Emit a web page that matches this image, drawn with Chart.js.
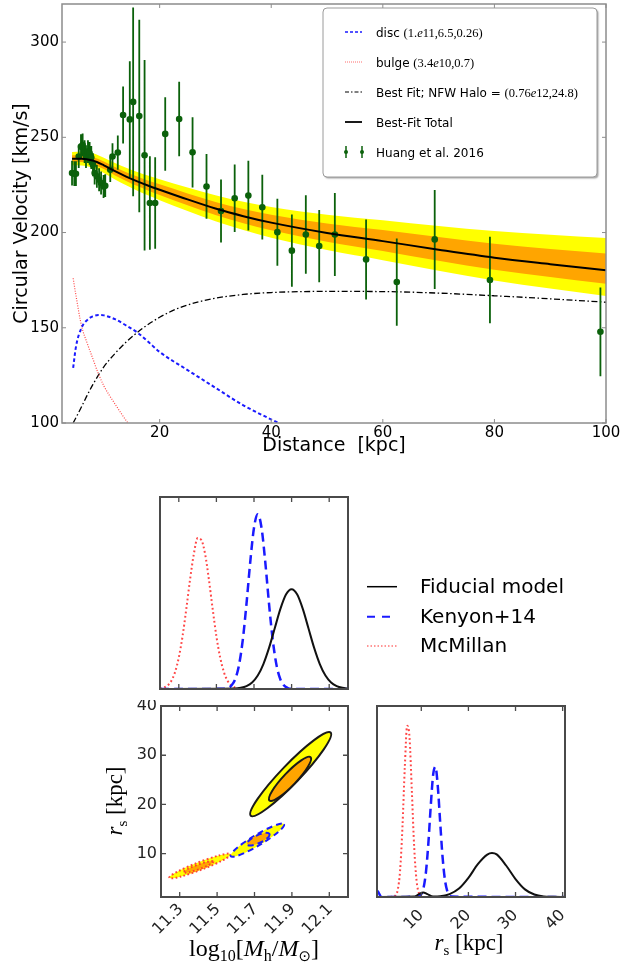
<!DOCTYPE html>
<html>
<head>
<meta charset="utf-8">
<title>Milky Way rotation curve and halo posteriors</title>
<script src="https://cdn.jsdelivr.net/npm/chart.js@4.4.1/dist/chart.umd.min.js"></script>
<style>
  html, body { margin: 0; padding: 0; background: #fff; }
  body { position: relative; width: 620px; height: 971px; overflow: hidden; }
  canvas { position: absolute; }
</style>
</head>
<body>
<canvas id="rotCurve" width="620" height="460" style="left:0;top:0;width:620px;height:460px"></canvas>
<canvas id="massHist" width="530" height="215" style="left:90px;top:480px;width:530px;height:215px"></canvas>
<canvas id="contours" width="270" height="271" style="left:90px;top:700px;width:270px;height:271px"></canvas>
<canvas id="rsHist" width="260" height="271" style="left:360px;top:700px;width:260px;height:271px"></canvas>
<script>
Chart.defaults.font.family = 'DejaVu Sans';
Chart.defaults.color = '#000';
Chart.defaults.animation = false;

// ---- rotation curve: Huang et al. 2016 points ----
const huangR = [4.3, 4.7, 5.0, 5.5, 5.9, 6.2, 6.55, 6.8, 7.15, 7.45, 7.75, 8.05, 8.35, 8.75, 9.15, 9.5, 9.95, 10.25, 11.15, 11.55,
  12.5, 13.45, 14.65, 15.25, 16.35, 17.3, 18.25, 19.2, 21.0, 23.5, 25.9, 28.4, 31.0, 33.45, 35.9, 38.4, 41.1, 43.7, 46.2, 48.6,
  51.4, 57.0, 62.5, 69.3, 79.2, 99.0];
const huangV = [231.2, 230.9, 230.9, 239.9, 245.1, 246.0, 242.5, 239.9, 242.5, 241.6, 239.4, 235.6, 231.2, 229.5, 227.7, 226.0, 224.2, 224.6, 233.0, 239.9,
  242.0, 261.7, 259.4, 268.6, 261.2, 240.6, 215.5, 215.5, 251.8, 259.6, 242.1, 224.2, 211.3, 218.0, 219.4, 213.3, 200.2, 190.5, 199.0, 192.9,
  199.0, 185.9, 174.0, 196.4, 175.1, 147.9];
const huangErr = [6.5, 6.5, 6.5, 6, 6.5, 6, 6, 6, 6, 6, 6, 6, 6, 6, 6, 6, 6, 6, 6.5, 7,
  9, 15, 30.5, 49.5, 50.5, 50, 24.5, 24, 19.3, 19.6, 18.5, 17, 16.5, 17.7, 18.3, 17, 17.6, 19, 20.6, 19,
  21.8, 21, 22.9, 26, 22.7, 23.3];

// best-fit total and its 1/2 sigma envelopes
const fitR = [4.3, 6, 8, 10, 12, 14, 16, 18, 20, 25, 30, 35, 40, 50, 60, 70, 80, 90, 100];
const fitV = [238.8, 238.8, 237.8, 235.3, 232.2, 229.4, 226.9, 224.6, 222.5, 217.4, 212.6, 208.6, 205.2, 199.8, 195.5, 191.0, 186.8, 183.4, 180.2];
const fitUp2 = [242.3, 242.4, 241.6, 239.3, 236.5, 234.0, 231.8, 229.8, 228.0, 223.7, 219.6, 216.2, 213.4, 209.4, 206.5, 203.5, 200.8, 198.9, 197.2];
const fitUp1 = [240.6, 240.6, 239.7, 237.3, 234.4, 231.7, 229.4, 227.2, 225.3, 220.5, 216.1, 212.4, 209.4, 204.8, 201.3, 197.6, 194.1, 191.4, 189.0];
const fitLo1 = [237.0, 237.0, 235.9, 233.3, 230.0, 227.1, 224.4, 222.0, 219.7, 214.3, 209.2, 204.9, 201.2, 195.2, 190.3, 185.2, 180.5, 176.7, 173.1];
const fitLo2 = [235.3, 235.2, 234.0, 231.3, 227.9, 224.8, 222.0, 219.4, 217.0, 211.3, 205.9, 201.3, 197.3, 190.8, 185.5, 180.0, 174.8, 170.6, 166.7];

// mass components
const discR = [4.5, 5, 6, 7, 8, 9, 10, 12, 14, 16, 18, 20, 25, 30, 35, 41.3];
const discV = [129, 140, 150, 154, 156, 156.7, 156.5, 154.5, 151.2, 147.5, 142.5, 137.3, 127.8, 118.5, 109.3, 100];
const bulgeR = [4.5, 5, 6, 7, 8, 9, 10, 11, 12, 13, 14.3];
const bulgeV = [176, 167, 151, 142, 134, 126, 119.5, 114.5, 110, 105.5, 100];
const haloR = [4.5, 6, 7, 8, 9, 10, 12, 14, 17, 20, 24, 30, 35, 40, 50, 60, 70, 80, 90, 100];
const haloV = [100, 108.5, 114.5, 120, 125, 129.5, 136.5, 142.5, 149.8, 155.5, 161, 165.5, 167.5, 168.5, 169.1, 169, 168.2, 166.8, 165.2, 163.4];

const distTicks = [20, 40, 60, 80, 100];
const velTicks = [100, 150, 200, 250, 300];

// ---- halo posteriors ----
const mhTicks = [11.3, 11.5, 11.7, 11.9, 12.1];
const rsTicks = [10, 20, 30, 40];

const mhFidX = [11.20, 11.60, 11.63, 11.66, 11.69, 11.72, 11.75, 11.78, 11.81, 11.84, 11.87, 11.90, 11.93, 11.96, 11.99, 12.02, 12.05, 12.08, 12.11, 12.14, 12.17, 12.20];
const mhFidY = [0, 0.002, 0.006, 0.015, 0.034, 0.070, 0.130, 0.214, 0.315, 0.416, 0.492, 0.52, 0.492, 0.416, 0.315, 0.214, 0.130, 0.070, 0.034, 0.015, 0.006, 0.002];
const mhKenX = [11.20, 11.54, 11.56, 11.58, 11.60, 11.62, 11.64, 11.66, 11.68, 11.70, 11.72, 11.74, 11.76, 11.78, 11.80, 11.82, 11.84, 11.86, 11.88, 11.90, 11.94, 12.20];
const mhKenY = [0, 0.001, 0.005, 0.018, 0.051, 0.123, 0.253, 0.443, 0.661, 0.840, 0.91, 0.840, 0.661, 0.443, 0.253, 0.123, 0.051, 0.018, 0.005, 0.001, 0, 0];
const mhMcmX = [11.20, 11.22, 11.24, 11.26, 11.28, 11.30, 11.32, 11.34, 11.36, 11.38, 11.40, 11.42, 11.44, 11.46, 11.48, 11.50, 11.52, 11.54, 11.56, 11.58, 11.60, 11.62, 11.66, 12.20];
const mhMcmY = [0.002, 0.007, 0.018, 0.042, 0.088, 0.164, 0.275, 0.418, 0.571, 0.703, 0.786, 0.776, 0.703, 0.571, 0.418, 0.275, 0.164, 0.088, 0.042, 0.018, 0.007, 0.002, 0, 0];

const rsFidX = [0.6, 8.5, 9.5, 10.4, 11.3, 12.5, 14, 16, 18, 20, 22, 24, 25, 26, 28, 30, 32, 34, 36, 38, 40.5];
const rsFidY = [0, 0.002, 0.015, 0.024, 0.015, 0.003, 0.004, 0.015, 0.044, 0.100, 0.172, 0.222, 0.23, 0.223, 0.165, 0.094, 0.040, 0.013, 0.003, 0.001, 0];
const rsKenX = [0.6, 1.0, 1.5, 9.5, 10.0, 10.5, 11.0, 11.5, 12.0, 12.5, 13.0, 13.5, 14.0, 14.5, 15.0, 15.5, 16.0, 16.5, 40.5];
const rsKenY = [0.035, 0.02, 0, 0.004, 0.015, 0.050, 0.133, 0.281, 0.474, 0.637, 0.682, 0.581, 0.395, 0.214, 0.093, 0.032, 0.009, 0.002, 0];
const rsMcmX = [0.6, 4.0, 4.5, 5.0, 5.5, 6.0, 6.5, 7.0, 7.5, 8.0, 8.5, 9.0, 9.5, 10.0, 10.5, 40.5];
const rsMcmY = [0, 0.001, 0.007, 0.037, 0.138, 0.366, 0.679, 0.896, 0.836, 0.552, 0.258, 0.085, 0.020, 0.003, 0, 0];

// 1 and 2 sigma regions, given by the ends of each ellipse's long axis [log10 Mh, rs]
const fidOuter = [[11.68, 17.7], [12.107, 34.6]];
const fidInner = [[11.78, 20.8], [12.0, 29.6]];
const kenOuter = [[11.573, 9.5], [11.858, 16.0]];
const kenInner = [[11.66, 11.9], [11.78, 14.0]];
const mcmOuter = [[11.244, 5.1], [11.573, 9.9]];
const mcmInner = [[11.32, 6.2], [11.48, 8.4]];

const GREEN = '#0b610b';
const RED_DOT = 'rgba(255,50,50,0.9)';
const BLUE = '#1a1aff';
const SERIF = '"Liberation Serif"';

const pts = (xs, ys) => xs.map((x, i) => ({ x, y: ys[i] }));
const fixTicks = vals => s => { s.ticks = vals.map(v => ({ value: v })); };

// draws text made of pieces with their own font and baseline shift
function richText(ctx, parts, x, y, align, rotation) {
  ctx.save();
  ctx.translate(x, y);
  if (rotation) ctx.rotate(rotation);
  ctx.textBaseline = 'alphabetic';
  ctx.textAlign = 'left';
  ctx.fillStyle = '#000';
  let w = 0;
  parts.forEach(p => { ctx.font = p[1]; w += ctx.measureText(p[0]).width; });
  let cx = align === 'center' ? -w / 2 : 0;
  parts.forEach(p => {
    ctx.font = p[1];
    ctx.fillText(p[0], cx, p[2] || 0);
    cx += ctx.measureText(p[0]).width;
  });
  ctx.restore();
}

// box around the plot area with inward ticks
const framePlugin = {
  id: 'frame',
  afterDatasetsDraw(chart, args, o) {
    const { ctx, chartArea: a, scales } = chart;
    ctx.save();
    ctx.strokeStyle = o.color;
    ctx.lineWidth = o.tickWidth;
    ctx.beginPath();
    if (o.xTicks) scales.x.ticks.forEach(t => {
      const p = scales.x.getPixelForValue(t.value);
      ctx.moveTo(p, a.bottom); ctx.lineTo(p, a.bottom - o.len);
      ctx.moveTo(p, a.top); ctx.lineTo(p, a.top + o.len);
    });
    if (o.yTicks) scales.y.ticks.forEach(t => {
      const p = scales.y.getPixelForValue(t.value);
      ctx.moveTo(a.left, p); ctx.lineTo(a.left + o.len, p);
      ctx.moveTo(a.right, p); ctx.lineTo(a.right - o.len, p);
    });
    ctx.stroke();
    ctx.lineWidth = o.width;
    ctx.strokeRect(a.left, a.top, a.right - a.left, a.bottom - a.top);
    ctx.restore();
  }
};

// vertical error bars, drawn just under the Huang markers
const errorBars = {
  id: 'errorBars',
  beforeDatasetDraw(chart, args) {
    if (chart.data.datasets[args.index].label !== 'Huang et al. 2016') return;
    const { ctx, chartArea: a, scales: { x, y } } = chart;
    ctx.save();
    ctx.beginPath();
    ctx.rect(a.left, a.top, a.right - a.left, a.bottom - a.top);
    ctx.clip();
    ctx.strokeStyle = GREEN;
    ctx.lineWidth = 1.8;
    ctx.beginPath();
    huangR.forEach((r, i) => {
      const px = x.getPixelForValue(r);
      ctx.moveTo(px, y.getPixelForValue(huangV[i] - huangErr[i]));
      ctx.lineTo(px, y.getPixelForValue(huangV[i] + huangErr[i]));
    });
    ctx.stroke();
    ctx.restore();
  }
};

const rcLegend = {
  id: 'rcLegend',
  afterDraw(chart) {
    const ctx = chart.ctx;
    const sans = '12px "DejaVu Sans"';
    const ser = '12.5px ' + SERIF;
    const serI = 'italic 12.5px ' + SERIF;
    const rows = [
      [['disc ', sans], ['(1.', ser], ['e', serI], ['11,6.5,0.26)', ser]],
      [['bulge ', sans], ['(3.4', ser], ['e', serI], ['10,0.7)', ser]],
      [['Best Fit; NFW Halo = ', sans], ['(0.76', ser], ['e', serI], ['12,24.8)', ser]],
      [['Best-Fit Total', sans]],
      [['Huang et al. 2016', sans]]
    ];
    ctx.save();
    ctx.shadowColor = 'rgba(0,0,0,0.35)';
    ctx.shadowOffsetX = 1.5; ctx.shadowOffsetY = 1.5; ctx.shadowBlur = 1.5;
    ctx.fillStyle = '#fff';
    ctx.beginPath();
    ctx.roundRect(323, 8, 274, 169, 4);
    ctx.fill();
    ctx.shadowColor = 'transparent';
    ctx.strokeStyle = '#9a9a9a';
    ctx.lineWidth = 1;
    ctx.stroke();

    rows.forEach((parts, i) => {
      const yc = 32 + i * 30;
      ctx.save();
      ctx.beginPath();
      if (i === 0) { ctx.strokeStyle = BLUE; ctx.lineWidth = 1.6; ctx.setLineDash([3, 2]); }
      if (i === 1) { ctx.strokeStyle = 'rgba(255,60,60,0.75)'; ctx.lineWidth = 1; ctx.setLineDash([1, 1]); }
      if (i === 2) { ctx.strokeStyle = '#000'; ctx.lineWidth = 1.2; ctx.setLineDash([4, 2, 1.5, 2]); }
      if (i === 3) { ctx.strokeStyle = '#000'; ctx.lineWidth = 1.8; }
      if (i < 4) {
        ctx.moveTo(345, yc); ctx.lineTo(362, yc); ctx.stroke();
      } else {
        ctx.strokeStyle = GREEN; ctx.fillStyle = GREEN; ctx.lineWidth = 1.5;
        [346, 362].forEach(mx => {
          ctx.beginPath(); ctx.moveTo(mx, yc - 6); ctx.lineTo(mx, yc + 6); ctx.stroke();
          ctx.beginPath(); ctx.arc(mx, yc, 2, 0, Math.PI * 2); ctx.fill();
        });
      }
      ctx.restore();
      richText(ctx, parts, 376, yc + 4.5, 'left');
    });
    ctx.restore();
  }
};

const line = (label, xs, ys, color, width, dash, order) => ({
  label, data: pts(xs, ys), borderColor: color, borderWidth: width, borderDash: dash || [],
  pointRadius: 0, fill: false, cubicInterpolationMode: 'monotone', order
});

new Chart(document.getElementById('rotCurve'), {
  type: 'line',
  data: {
    datasets: [
      line('Best-Fit Total', fitR, fitV, '#000', 2, [], 0),
      { label: 'Huang et al. 2016', data: pts(huangR, huangV), showLine: false, pointRadius: 3.3,
        pointBackgroundColor: GREEN, pointBorderColor: GREEN, pointBorderWidth: 0, order: 1 },
      line('disc', discR, discV, BLUE, 2, [3.5, 2.5], 2),
      line('bulge', bulgeR, bulgeV, 'rgba(255,40,40,0.85)', 1.2, [1, 1.5], 3),
      line('NFW halo', haloR, haloV, '#000', 1.3, [6, 2.5, 1.5, 2.5], 4),
      { ...line('1 sigma', fitR, fitUp1, 'rgba(0,0,0,0)', 1, [], 5), fill: 6, backgroundColor: '#ffa500' },
      line('1 sigma low', fitR, fitLo1, 'rgba(0,0,0,0)', 1, [], 6),
      { ...line('2 sigma', fitR, fitUp2, 'rgba(0,0,0,0)', 1, [], 7), fill: 8, backgroundColor: '#ffff00' },
      line('2 sigma low', fitR, fitLo2, 'rgba(0,0,0,0)', 1, [], 8)
    ]
  },
  options: {
    responsive: false,
    layout: { padding: { left: 0, right: 14, top: 2, bottom: 0 } },
    plugins: {
      legend: { display: false },
      tooltip: { enabled: false },
      frame: { color: '#8c8c8c', width: 1.5, tickWidth: 1, len: 4, xTicks: true, yTicks: true }
    },
    scales: {
      x: {
        type: 'linear', min: 2.5, max: 100,
        afterBuildTicks: fixTicks(distTicks),
        afterFit: s => { s.height = 37; s.paddingLeft = 0; s.paddingRight = 0; },
        grid: { display: false, drawTicks: false },
        border: { display: false },
        ticks: { font: { size: 15 }, padding: 1, maxRotation: 0, autoSkip: false },
        title: { display: true, text: 'Distance  [kpc]', font: { size: 19 }, padding: { top: 0, bottom: 3 } }
      },
      y: {
        type: 'linear', min: 100, max: 320,
        afterBuildTicks: fixTicks(velTicks),
        afterFit: s => { s.width = 62; s.paddingTop = 0; s.paddingBottom = 0; },
        grid: { display: false, drawTicks: false },
        border: { display: false },
        ticks: { font: { size: 15 }, padding: 3, autoSkip: false },
        title: { display: true, text: 'Circular Velocity [km/s]', font: { size: 19 }, padding: { top: 11, bottom: 0 } }
      }
    }
  },
  plugins: [framePlugin, errorBars, rcLegend]
});

// ---- posterior panels ----
const mhLegend = {
  id: 'mhLegend',
  afterDraw(chart) {
    const ctx = chart.ctx;
    const names = ['Fiducial model', 'Kenyon+14', 'McMillan'];
    ctx.save();
    names.forEach((name, i) => {
      const yc = [106.7, 136.7, 166][i];
      ctx.save();
      ctx.beginPath();
      if (i === 0) { ctx.strokeStyle = '#000'; ctx.lineWidth = 1.5; }
      if (i === 1) { ctx.strokeStyle = BLUE; ctx.lineWidth = 2; ctx.setLineDash([8, 7]); }
      if (i === 2) { ctx.strokeStyle = 'rgba(255,80,80,0.8)'; ctx.lineWidth = 1.5; ctx.setLineDash([1.5, 2]); }
      ctx.moveTo(277, yc); ctx.lineTo(307, yc);
      ctx.stroke();
      ctx.restore();
      ctx.fillStyle = '#000';
      ctx.font = '20px "DejaVu Sans"';
      ctx.textBaseline = 'middle';
      ctx.fillText(name, 330, yc + 1);
    });
    ctx.restore();
  }
};

const histCurves = (fx, fy, kx, ky, mx, my) => [
  line('Fiducial model', fx, fy, '#111', 2, [], 0),
  line('Kenyon+14', kx, ky, BLUE, 2.5, [9, 5], 1),
  line('McMillan', mx, my, RED_DOT, 2, [1.8, 2.6], 2)
];

const PANEL_FRAME = { color: '#4a4a4a', width: 2, tickWidth: 1.3, len: 5, xTicks: true, yTicks: false };

new Chart(document.getElementById('massHist'), {
  type: 'line',
  data: { datasets: histCurves(mhFidX, mhFidY, mhKenX, mhKenY, mhMcmX, mhMcmY) },
  options: {
    responsive: false,
    layout: { padding: { left: 70, right: 272, top: 17, bottom: 0 } },
    plugins: { legend: { display: false }, tooltip: { enabled: false }, frame: PANEL_FRAME },
    scales: {
      x: {
        type: 'linear', min: 11.2, max: 12.2,
        afterBuildTicks: fixTicks(mhTicks),
        afterFit: s => { s.height = 6; s.paddingLeft = 0; s.paddingRight = 0; },
        grid: { display: false, drawTicks: false }, border: { display: false },
        ticks: { display: false }
      },
      y: { type: 'linear', min: 0, max: 1, display: false }
    }
  },
  plugins: [framePlugin, mhLegend]
});

// ellipse through the two long-axis ends, with a given width/length ratio
function ellipsePath(ctx, xs, ys, ends, ratio) {
  const x1 = xs.getPixelForValue(ends[0][0]), y1 = ys.getPixelForValue(ends[0][1]);
  const x2 = xs.getPixelForValue(ends[1][0]), y2 = ys.getPixelForValue(ends[1][1]);
  const half = Math.hypot(x2 - x1, y2 - y1) / 2;
  ctx.beginPath();
  ctx.ellipse((x1 + x2) / 2, (y1 + y2) / 2, half, half * ratio, Math.atan2(y2 - y1, x2 - x1), 0, Math.PI * 2);
}

const contourPlugin = {
  id: 'contourRegions',
  beforeDatasetsDraw(chart) {
    const { ctx, chartArea: a, scales: { x, y } } = chart;
    const sets = [
      { outer: mcmOuter, inner: mcmInner, ro: 0.12, ri: 0.15, color: RED_DOT, width: 2, dash: [1.8, 2.4] },
      { outer: kenOuter, inner: kenInner, ro: 0.17, ri: 0.32, color: BLUE, width: 2, dash: [6, 4] },
      { outer: fidOuter, inner: fidInner, ro: 0.165, ri: 0.22, color: '#1a1a1a', width: 2, dash: [] }
    ];
    ctx.save();
    ctx.beginPath();
    ctx.rect(a.left, a.top, a.right - a.left, a.bottom - a.top);
    ctx.clip();
    sets.forEach(s => {
      ctx.setLineDash(s.dash);
      ctx.strokeStyle = s.color;
      ctx.lineWidth = s.width;
      ellipsePath(ctx, x, y, s.outer, s.ro);
      ctx.fillStyle = '#ffff00';
      ctx.fill();
      ctx.stroke();
      ellipsePath(ctx, x, y, s.inner, s.ri);
      ctx.fillStyle = '#ffa500';
      ctx.fill();
      ctx.stroke();
    });
    ctx.restore();
  },
  afterDraw(chart) {
    const ctx = chart.ctx;
    const big = '24px ' + SERIF, bigI = 'italic 24px ' + SERIF, sub = '16px ' + SERIF;
    richText(ctx, [['log', big], ['10', sub, 5], ['[', big], ['M', bigI], ['h', sub, 5], ['/', big],
      ['M', bigI], ['\u2299', '15px "DejaVu Sans"', 5], [']', big]], 164, 256, 'center');
    richText(ctx, [['r', 'italic 23px ' + SERIF], ['s', '15px ' + SERIF, 5], [' [kpc]', '23px ' + SERIF]],
      32, 101, 'center', -Math.PI / 2);
  }
};

new Chart(document.getElementById('contours'), {
  type: 'scatter',
  data: { datasets: [] },
  options: {
    responsive: false,
    layout: { padding: { left: 0, right: 12, top: 6, bottom: 0 } },
    plugins: { legend: { display: false }, tooltip: { enabled: false },
      frame: { ...PANEL_FRAME, yTicks: true } },
    scales: {
      x: {
        type: 'linear', min: 11.2, max: 12.2,
        afterBuildTicks: fixTicks(mhTicks),
        afterFit: s => { s.height = 74; s.paddingLeft = 0; s.paddingRight = 0; },
        grid: { display: false, drawTicks: false }, border: { display: false },
        ticks: { font: { size: 16 }, color: '#222', minRotation: 45, maxRotation: 45, padding: 3, labelOffset: 1, autoSkip: false }
      },
      y: {
        type: 'linear', min: 1.2, max: 40,
        afterBuildTicks: fixTicks(rsTicks),
        afterFit: s => { s.width = 71; s.paddingTop = 0; s.paddingBottom = 0; },
        grid: { display: false, drawTicks: false }, border: { display: false },
        ticks: { font: { size: 16 }, color: '#222', padding: 4, autoSkip: false }
      }
    }
  },
  plugins: [contourPlugin, framePlugin]
});

const rsTitle = {
  id: 'rsTitle',
  afterDraw(chart) {
    richText(chart.ctx, [['r', 'italic 23px ' + SERIF], ['s', '15px ' + SERIF, 5], [' [kpc]', '23px ' + SERIF]],
      109, 250, 'center');
  }
};

new Chart(document.getElementById('rsHist'), {
  type: 'line',
  data: { datasets: histCurves(rsFidX, rsFidY, rsKenX, rsKenY, rsMcmX, rsMcmY) },
  options: {
    responsive: false,
    layout: { padding: { left: 17, right: 55, top: 6, bottom: 0 } },
    plugins: { legend: { display: false }, tooltip: { enabled: false }, frame: PANEL_FRAME },
    scales: {
      x: {
        type: 'linear', min: 0.6, max: 40.5,
        afterBuildTicks: fixTicks(rsTicks),
        afterFit: s => { s.height = 74; s.paddingLeft = 0; s.paddingRight = 0; },
        grid: { display: false, drawTicks: false }, border: { display: false },
        ticks: { font: { size: 16 }, color: '#222', minRotation: 45, maxRotation: 45, padding: 9, labelOffset: 0, autoSkip: false }
      },
      y: { type: 'linear', min: 0, max: 1, display: false }
    }
  },
  plugins: [framePlugin, rsTitle]
});
</script>
</body>
</html>
